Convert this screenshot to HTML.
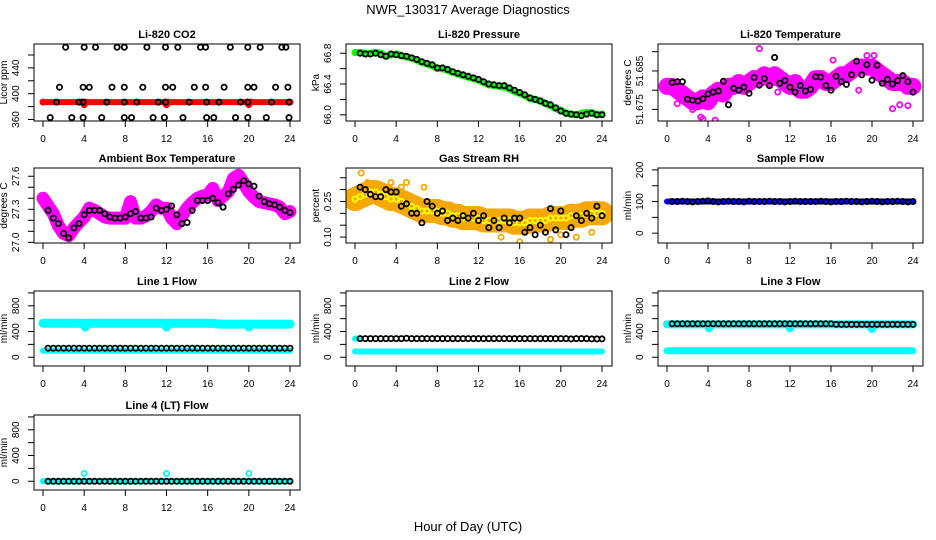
<!DOCTYPE html>
<html><head><meta charset="utf-8">
<style>
html,body{margin:0;padding:0;background:#fff;}
svg{display:block;font-family:"Liberation Sans",sans-serif;}
</style></head>
<body>
<svg id="chart" width="936" height="540" viewBox="0 0 936 540" xmlns="http://www.w3.org/2000/svg">
<rect width="936" height="540" fill="#fff"/>
<text x="468" y="14" text-anchor="middle" font-size="13">NWR_130317  Average Diagnostics</text>
<text x="468" y="531" text-anchor="middle" font-size="13">Hour of Day (UTC)</text>
</svg>
<script>
// ---------- data ----------
const xTicks = [0,4,8,12,16,20,24];
const co2BandHours = [0,3.8,4,4.2,11.8,12,12.2,19.8,20,20.2,24];
const co2BandVals  = [387,387,383,387,387,383,387,387,383,387,387];
const co2BlackHours = [2.2,4.0,5.1,7.2,7.9,10.1,11.9,13.1,15.3,15.8,18.2,19.9,21.1,23.2,23.6,
 1.6,3.9,4.5,6.7,7.9,9.7,11.9,12.6,14.7,15.8,17.6,19.9,20.5,22.6,23.8,
 1.3,3.5,3.9,6.2,7.9,9.1,11.2,11.9,14.2,15.9,17.1,19.2,19.9,22.2,23.9,
 0.7,2.8,3.9,5.7,7.9,8.6,10.7,11.8,13.6,15.9,16.6,18.7,19.9,21.7,23.9];
const co2BlackVals = [472,472,472,472,472,472,472,472,472,472,472,472,472,472,472,
 410,410,410,410,410,410,410,410,410,410,410,410,410,410,410,
 387,387,387,387,387,387,387,387,387,387,387,387,387,387,387,
 363,363,363,363,363,363,363,363,363,363,363,363,363,363,363];

const pressDense = [66.81,66.81,66.80,66.80,66.81,66.80,66.76,66.78,66.79,66.77,66.75,66.74,66.71,66.68,66.66,66.64,66.60,66.60,66.58,66.55,66.53,66.51,66.49,66.47,66.45,66.42,66.39,66.38,66.37,66.36,66.34,66.30,66.28,66.25,66.21,66.20,66.18,66.15,66.12,66.08,66.06,66.02,66.01,66.00,66.02,66.03,66.03,66.00,66.01];
const pressBlack = [66.80,66.79,66.79,66.80,66.78,66.76,66.79,66.78,66.77,66.76,66.74,66.72,66.69,66.67,66.65,66.61,66.61,66.59,66.56,66.54,66.52,66.50,66.48,66.46,66.43,66.40,66.39,66.38,66.38,66.35,66.32,66.29,66.26,66.22,66.20,66.18,66.15,66.13,66.09,66.05,66.02,66.01,66.00,65.99,66.01,66.02,66.00,66.00];

const tempDense = [51.681,51.681,51.680,51.679,51.678,51.677,51.677,51.678,51.677,51.679,51.680,51.679,51.681,51.681,51.682,51.681,51.682,51.683,51.683,51.684,51.683,51.684,51.683,51.682,51.681,51.682,51.680,51.680,51.681,51.683,51.683,51.682,51.682,51.683,51.684,51.684,51.685,51.686,51.686,51.686,51.686,51.685,51.684,51.683,51.682,51.682,51.682,51.681,51.681];
const tempBlack = [51.6820,51.6822,51.6822,51.6777,51.6774,51.6772,51.6778,51.6790,51.6795,51.6798,51.6823,51.6762,51.6805,51.6800,51.6808,51.6792,51.6833,51.6813,51.6830,51.6812,51.6885,51.6818,51.6825,51.6808,51.6795,51.6812,51.6798,51.6802,51.6835,51.6834,51.6812,51.6800,51.6836,51.6822,51.6815,51.6840,51.6875,51.6840,51.6866,51.6826,51.6865,51.6818,51.6828,51.6816,51.6825,51.6838,51.6822,51.6795];
const tempOutHours = [1.0,2.5,3.5,4.7,3.3,9.0,16.2,19.5,22.0,22.7,23.5,10.8,20.2,18.7];
const tempOutVals  = [51.6765,51.6750,51.6725,51.6722,51.6730,51.6908,51.6878,51.6890,51.6752,51.6762,51.6760,51.6795,51.6890,51.6800];

const ambDense = [27.40,27.33,27.26,27.15,27.08,27.06,27.13,27.18,27.23,27.31,27.29,27.26,27.23,27.22,27.22,27.22,27.22,27.37,27.22,27.22,27.24,27.28,27.34,27.31,27.31,27.22,27.17,27.24,27.31,27.36,27.40,27.42,27.43,27.49,27.38,27.42,27.46,27.58,27.61,27.54,27.46,27.41,27.37,27.36,27.35,27.34,27.32,27.26,27.28];
const ambBlack = [27.29,27.22,27.17,27.08,27.04,27.13,27.17,27.25,27.29,27.29,27.29,27.26,27.23,27.22,27.22,27.23,27.26,27.28,27.22,27.22,27.23,27.31,27.29,27.30,27.33,27.25,27.17,27.18,27.29,27.38,27.38,27.38,27.40,27.36,27.32,27.44,27.48,27.52,27.56,27.53,27.51,27.42,27.37,27.35,27.34,27.32,27.29,27.27];

const rhDense = [0.26,0.27,0.28,0.29,0.29,0.28,0.27,0.26,0.26,0.25,0.24,0.23,0.22,0.21,0.21,0.21,0.21,0.20,0.20,0.19,0.19,0.18,0.18,0.18,0.18,0.17,0.17,0.17,0.17,0.17,0.17,0.16,0.16,0.16,0.17,0.17,0.17,0.17,0.18,0.18,0.18,0.18,0.19,0.19,0.19,0.20,0.20,0.20,0.20];
const rhBlack = [0.31,0.30,0.28,0.27,0.27,0.30,0.29,0.29,0.23,0.24,0.20,0.20,0.16,0.25,0.23,0.20,0.21,0.17,0.18,0.17,0.19,0.18,0.20,0.17,0.19,0.14,0.17,0.14,0.18,0.16,0.18,0.18,0.12,0.14,0.11,0.15,0.12,0.22,0.13,0.21,0.11,0.14,0.19,0.17,0.20,0.18,0.23,0.19];
const rhOutHours = [0.6,1.2,3.5,5.0,6.7,4.5,14.2,19.0,20.0,21.5,23.0,16.0];
const rhOutVals  = [0.37,0.33,0.33,0.33,0.31,0.31,0.10,0.09,0.11,0.10,0.12,0.08];

const sampleBandHours = [0,24];
const sampleBandVals = [100,100];
const sampleBlack = [100,100,101,100,99,100,101,102,100,99,100,101,100,100,99,101,100,100,100,101,100,100,99,100,101,100,100,100,100,101,100,99,100,100,101,100,100,99,100,101,100,99,100,100,101,100,99,100];

const l1HighHours = [0,3.9,4.1,4.3,11.8,12,12.2,16.5,17,19.8,20,20.2,24];
const l1HighVals  = [530,530,470,530,530,470,530,530,515,515,470,515,515];
const l1LowHours = [0,24];
const l1LowVals = [100,100];
const l1Black = [140,140,140,140,140,140,140,140,140,140,140,140,140,140,140,140,140,140,140,140,140,140,140,140,140,140,140,140,140,140,140,140,140,140,140,140,140,140,140,140,140,140,140,140,140,140,140,140];

const l2HighHours = [0,0.5];
const l2HighVals = [290,290];
const l2LowHours = [0,24];
const l2LowVals = [90,90];
const l2Black = [290,290,290,290,290,290,290,290,290,295,290,290,290,290,290,290,290,290,290,290,290,290,290,290,290,290,290,290,290,290,290,290,290,290,290,290,290,290,290,290,290,285,290,290,290,285,285,285];

const l3HighHours = [0,3.9,4.1,4.3,11.8,12,12.2,19.8,20,20.2,24];
const l3HighVals  = [510,510,450,510,510,450,510,510,440,510,510];
const l3LowHours = [0,24];
const l3LowVals = [100,100];
const l3Black = [520,520,520,520,520,520,520,520,520,520,520,520,520,520,520,520,520,520,520,520,520,520,520,520,520,520,520,520,520,520,520,520,510,510,510,510,510,510,510,510,510,510,510,510,510,510,510,510];

const l4CyanHours = [0,24];
const l4CyanVals = [0,0];
const l4OutHours = [4,12,20];
const l4OutVals = [120,120,120];
const l4Black = [0,0,0,0,0,0,0,0,0,0,0,0,0,0,0,0,0,0,0,0,0,0,0,0,0,0,0,0,0,0,0,0,0,0,0,0,0,0,0,0,0,0,0,0,0,0,0,0];

// ---------- drawing ----------
const NS = "http://www.w3.org/2000/svg";
const svg = document.getElementById('chart');
function mk(tag, attrs, parent){ const e=document.createElementNS(NS,tag); for(const k in attrs) e.setAttribute(k,attrs[k]); (parent||svg).appendChild(e); return e; }
const denseHours = pressDense.map((_,i)=>i*0.5);
const blackHours = pressBlack.map((_,i)=>(i+1)*0.5);
const cols = [[34,300],[346,612],[658,923]];
const rows = [[44,121],[168,243],[291,366],[415,490]];

function panel(p){
  const [L,R] = cols[p.col], [T,B] = rows[p.row];
  const g = mk('g',{});
  
  
  const x = h => (L+9) + h/24*((R-10)-(L+9));
  const y = v => B - (v-p.y0)/(p.y1-p.y0)*(B-T);
  const clip = 'clip-'+p.name;
  const cp = mk('clipPath',{id:clip},g); mk('rect',{x:L,y:T,width:R-L,height:B-T},cp);
  const plot = mk('g',{'clip-path':'url(#'+clip+')'},g);
  
  
  p.series.forEach(s=>{
    if(s.band){
      const pts = s.hours.map((h,i)=>x(h).toFixed(1)+','+y(s.vals[i]).toFixed(1)).join(' ');
      const pl = mk('polyline',{points:pts,fill:'none',stroke:s.color,'stroke-width':s.band,'stroke-linecap':'round','stroke-linejoin':'round'},plot);
      
      
    }
    if(s.points!==false){
      s.hours.forEach((h,i)=>{
        const c = mk('circle',{cx:x(h).toFixed(1),cy:y(s.vals[i]).toFixed(1),r:2.6,fill:'none',stroke:s.color,'stroke-width':1.8},plot);
        
        
      });
    }
  });
  const box = mk('rect',{x:L,y:T,width:R-L,height:B-T,fill:'none',stroke:'#000','stroke-width':1},g);
  
  
  xTicks.forEach(t=>{
    mk('line',{x1:x(t),x2:x(t),y1:B,y2:B+6,stroke:'#000'},g);
    const tx = mk('text',{x:x(t),y:B+21,'text-anchor':'middle','font-size':10},g);
    tx.textContent = t;
    
    
  });
  p.yTicks.forEach(t=>{
    const yy=y(t);
    mk('line',{x1:L-6,x2:L,y1:yy,y2:yy,stroke:'#000'},g);
  });
  p.yLabels.forEach(t=>{
    const yy=y(parseFloat(t));
    const tx = mk('text',{x:L-15,y:yy,'text-anchor':'middle','font-size':10,transform:`rotate(-90 ${L-15} ${yy})`},g);
    tx.textContent = t;
    
    
  });
  const yl = mk('text',{x:L-27,y:(T+B)/2,'text-anchor':'middle','font-size':10,transform:`rotate(-90 ${L-27} ${(T+B)/2})`},g);
  yl.textContent = p.ylab;
  
  
  const ti = mk('text',{x:(L+R)/2,y:T-6,'text-anchor':'middle','font-size':11,'font-weight':'bold'},g);
  ti.textContent = p.title;
  
  
}
const flowTicks=[0,200,400,600,800,1000], flowLabels=['0','400','800'];
panel({name:'co2-panel',col:0,row:0,title:'Li-820 CO2',ylab:'Licor ppm',y0:357.7,y1:477,yTicks:[360,380,400,420,440,460],yLabels:['360','400','440'],
  series:[{name:'co2-raw',hours:co2BandHours,vals:co2BandVals,color:'#ff0000',band:6},{name:'co2-avg',hours:co2BlackHours,vals:co2BlackVals,color:'#000'}]});
panel({name:'pressure-panel',col:1,row:0,title:'Li-820 Pressure',ylab:'kPa',y0:65.92,y1:66.92,yTicks:[66.0,66.2,66.4,66.6,66.8],yLabels:['66.0','66.4','66.8'],
  series:[{name:'pressure-raw',hours:denseHours,vals:pressDense,color:'#00ff00',band:7},{name:'pressure-avg',hours:blackHours,vals:pressBlack,color:'#000'}]});
panel({name:'temperature-panel',col:2,row:0,title:'Li-820 Temperature',ylab:'degrees C',y0:51.672,y1:51.692,yTicks:[51.675,51.680,51.685,51.690],yLabels:['51.675','51.685'],
  series:[{name:'temp-raw',hours:denseHours,vals:tempDense,color:'#ff00ff',band:17},{name:'temp-outlier',hours:tempOutHours,vals:tempOutVals,color:'#ff00ff'},{name:'temp-avg',hours:blackHours,vals:tempBlack,color:'#000'}]});
panel({name:'ambient-panel',col:0,row:1,title:'Ambient Box Temperature',ylab:'degrees C',y0:26.994,y1:27.675,yTicks:[27.0,27.1,27.2,27.3,27.4,27.5,27.6],yLabels:['27.0','27.3','27.6'],
  series:[{name:'ambient-raw',hours:denseHours,vals:ambDense,color:'#ff00ff',band:13},{name:'ambient-avg',hours:blackHours,vals:ambBlack,color:'#000'}]});
panel({name:'rh-panel',col:1,row:1,title:'Gas Stream RH',ylab:'percent',y0:0.075,y1:0.391,yTicks:[0.10,0.15,0.20,0.25,0.30,0.35],yLabels:['0.10','0.25'],
  series:[{name:'rh-raw',hours:denseHours,vals:rhDense,color:'#f5a800',band:24},{name:'rh-raw-dots',hours:denseHours,vals:rhDense,color:'#ffff00'},{name:'rh-outlier',hours:rhOutHours,vals:rhOutVals,color:'#f5a800'},{name:'rh-avg',hours:blackHours,vals:rhBlack,color:'#000'}]});
panel({name:'sample-flow-panel',col:2,row:1,title:'Sample Flow',ylab:'ml/min',y0:-31,y1:206,yTicks:[0,50,100,150,200],yLabels:['0','100','200'],
  series:[{name:'sample-raw',hours:sampleBandHours,vals:sampleBandVals,color:'#0000ff',band:6,points:false},{name:'sample-avg',hours:blackHours,vals:sampleBlack,color:'#000'}]});
panel({name:'line1-panel',col:0,row:2,title:'Line 1 Flow',ylab:'ml/min',y0:-136,y1:1030,yTicks:flowTicks,yLabels:flowLabels,
  series:[{name:'line1-high',hours:l1HighHours,vals:l1HighVals,color:'#00ffff',band:9,points:false},{name:'line1-low',hours:l1LowHours,vals:l1LowVals,color:'#00ffff',band:6,points:false},{name:'line1-avg',hours:blackHours,vals:l1Black,color:'#000'}]});
panel({name:'line2-panel',col:1,row:2,title:'Line 2 Flow',ylab:'ml/min',y0:-136,y1:1030,yTicks:flowTicks,yLabels:flowLabels,
  series:[{name:'line2-high',hours:l2HighHours,vals:l2HighVals,color:'#00ffff',band:6,points:false},{name:'line2-low',hours:l2LowHours,vals:l2LowVals,color:'#00ffff',band:6,points:false},{name:'line2-avg',hours:blackHours,vals:l2Black,color:'#000'}]});
panel({name:'line3-panel',col:2,row:2,title:'Line 3 Flow',ylab:'ml/min',y0:-136,y1:1030,yTicks:flowTicks,yLabels:flowLabels,
  series:[{name:'line3-high',hours:l3HighHours,vals:l3HighVals,color:'#00ffff',band:8,points:false},{name:'line3-low',hours:l3LowHours,vals:l3LowVals,color:'#00ffff',band:7,points:false},{name:'line3-avg',hours:blackHours,vals:l3Black,color:'#000'}]});
panel({name:'line4-panel',col:0,row:3,title:'Line 4 (LT) Flow',ylab:'ml/min',y0:-136,y1:1030,yTicks:flowTicks,yLabels:flowLabels,
  series:[{name:'line4-raw',hours:l4CyanHours,vals:l4CyanVals,color:'#00ffff',band:6,points:false},{name:'line4-outlier',hours:l4OutHours,vals:l4OutVals,color:'#00ffff'},{name:'line4-avg',hours:blackHours,vals:l4Black,color:'#000'}]});
</script>
</body></html>
